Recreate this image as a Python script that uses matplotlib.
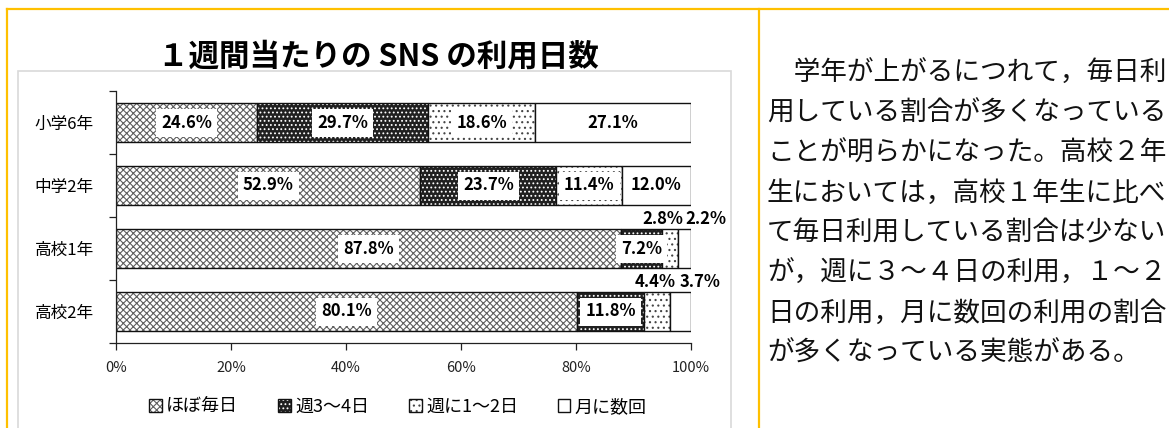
import matplotlib
matplotlib.use('Agg')
import matplotlib.pyplot as plt
from matplotlib.patches import Rectangle
from matplotlib.lines import Line2D
from matplotlib.legend_handler import HandlerTuple

plt.rcParams['font.family'] = ['Noto Sans CJK JP', 'DejaVu Sans']
plt.rcParams['hatch.linewidth'] = 0.8

# ---------------- data ----------------
categories = ['小学6年', '中学2年', '高校1年', '高校2年']
series_names = ['ほぼ毎日', '週3～4日', '週に1～2日', '月に数回']
almost_daily = [24.6, 52.9, 87.8, 80.1]
three_four_days = [29.7, 23.7, 7.2, 11.8]
one_two_days = [18.6, 11.4, 2.8, 4.4]
few_per_month = [27.1, 12.0, 2.2, 3.7]
x_ticks = [0, 20, 40, 60, 80, 100]
x_tick_labels = ['0%', '20%', '40%', '60%', '80%', '100%']
title = '１週間当たりの SNS の利用日数'
body_lines = [
    '\u3000学年が上がるにつれて，毎日利',
    '用している割合が多くなっている',
    'ことが明らかになった。高校２年',
    '生においては，高校１年生に比べ',
    'て毎日利用している割合は少ない',
    'が，週に３～４日の利用，１～２',
    '日の利用，月に数回の利用の割合',
    'が多くなっている実態がある。',
]

series = [almost_daily, three_four_days, one_two_days, few_per_month]

# ---------------- styles ----------------
faces = ['white', '#202020', 'white', 'white']
hatch_colors = ['#5F5F5F', '#FFFFFF', '#444444', 'white']
hatches = ['xxxxx', '....', '...', None]
# labels drawn above the bar: (row, series) -> x shift (in %)
outside_shift = {(2, 2): -1.3, (2, 3): 3.7, (3, 2): -0.4, (3, 3): 3.45}

W, H = 1169, 428
fig = plt.figure(figsize=(W / 100, H / 100), dpi=100)


def fx(px):
    return px / W


def fy(py):
    return 1 - py / H


# frame lines (yellow table borders)
yellow = '#FFC000'
fig.add_artist(Line2D([fx(7), 1], [fy(9), fy(9)], color=yellow, lw=1.6, transform=fig.transFigure))
fig.add_artist(Line2D([fx(7), fx(7)], [fy(9), 0], color=yellow, lw=1.6, transform=fig.transFigure))
fig.add_artist(Line2D([fx(759), fx(759)], [fy(9), 0], color=yellow, lw=1.6, transform=fig.transFigure))

# chart area border
fig.add_artist(Rectangle((fx(18), fy(440)), fx(731) - fx(18), fy(71) - fy(440),
                         transform=fig.transFigure, fill=False, edgecolor='#D9D9D9', lw=1.2))

# title
fig.text(fx(378), fy(56), title, ha='center', va='center', fontsize=22, fontweight='bold')

# body text
for i, line in enumerate(body_lines):
    fig.text(fx(767), fy(73 + 40 * i), line, ha='left', va='center', fontsize=19.2, color='#111111')

ax = fig.add_axes([fx(116), fy(343), fx(691) - fx(116), fy(91) - fy(343)])
ypos = list(range(len(categories)))
lefts = [0.0] * len(categories)
bar_h = 0.62
handles = []
for s, vals in enumerate(series):
    hb = ax.barh(ypos, vals, left=lefts, height=bar_h, color=faces[s],
                 edgecolor=hatch_colors[s], hatch=hatches[s], linewidth=0)
    ob = ax.barh(ypos, vals, left=lefts, height=bar_h, fill=False,
                 edgecolor='#111111', linewidth=1.0)
    handles.append((hb[0], ob[0]))
    for r, v in enumerate(vals):
        cx = lefts[r] + v / 2
        txt = f'{v:.1f}%'
        if (r, s) in outside_shift:
            ax.text(cx + outside_shift[(r, s)], r - 0.47, txt, ha='center', va='center',
                    fontsize=12, fontweight='bold', clip_on=False)
        else:
            ax.text(cx, r, txt, ha='center', va='center', fontsize=12, fontweight='bold',
                    bbox=dict(boxstyle='square,pad=0.3', facecolor='white', edgecolor='none'))
    lefts = [l + v for l, v in zip(lefts, vals)]

ax.set_xlim(0, 100)
ax.set_ylim(len(categories) - 0.5, -0.5)
ax.set_yticks(ypos)
ax.set_yticklabels(categories, fontsize=12)
ax.set_yticks([i - 0.5 for i in range(len(categories) + 1)], minor=True)
ax.tick_params(axis='y', which='major', length=0, pad=16)
ax.tick_params(axis='y', which='minor', length=5, width=0.9, color='#222222')
ax.set_xticks(x_ticks)
ax.set_xticklabels(x_tick_labels, fontsize=10.5, color='#222222')
ax.tick_params(axis='x', length=5, width=0.9, color='#222222', pad=8)
for sp in ['top', 'right']:
    ax.spines[sp].set_visible(False)
for sp in ['left', 'bottom']:
    ax.spines[sp].set_color('#222222')
    ax.spines[sp].set_linewidth(0.9)

fig.legend(handles, series_names, loc='center', bbox_to_anchor=(fx(398), fy(407)),
           ncol=4, frameon=False, fontsize=13, handlelength=0.7, handleheight=0.7,
           handletextpad=0.25, columnspacing=2.2,
           handler_map={tuple: HandlerTuple(ndivide=1, pad=0)})

fig.savefig('out.png', dpi=100)
